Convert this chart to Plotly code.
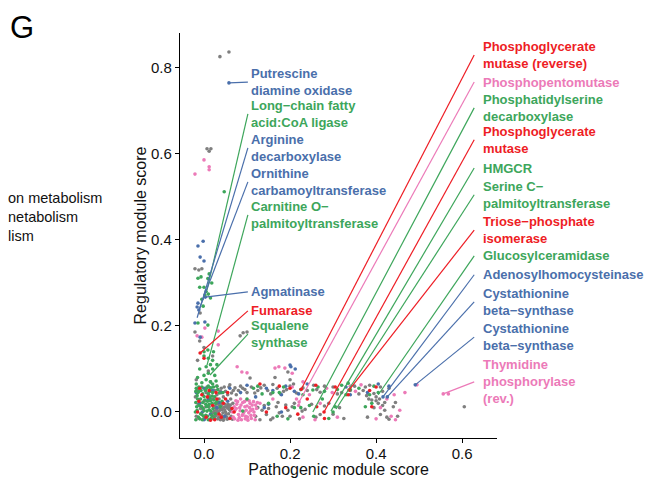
import plotly.graph_objects as go

# ---------------- data ----------------
grey_points = [
    (0.037, 0.826), (0.058, 0.837), (0.007, 0.612), (0.016, 0.612), (0.012, 0.606),
    (-0.021, 0.333), (-0.005, 0.333), (-0.012, 0.330), (-0.009, 0.230), (-0.021, 0.186),
    (0.091, 0.184), (0.100, 0.186), (0.084, 0.177), (0.107, 0.079), (0.060, 0.063),
    (0.195, 0.093), (0.605, 0.012),
    (0.000, 0.150), (-0.015, 0.120), (0.010, 0.095), (-0.018, 0.075), (0.020, 0.130),
    (-0.010, 0.165), (0.015, 0.070),
    (0.022, -0.015), (0.028, -0.008), (0.033, 0.000), (0.038, -0.018), (0.042, 0.006),
    (0.047, -0.012), (0.052, 0.012), (0.057, -0.004), (0.061, 0.016), (0.026, 0.014),
    (0.031, 0.019), (0.036, 0.009), (0.044, -0.002), (0.049, 0.018), (0.054, -0.017),
    (0.059, 0.005), (0.024, 0.002), (0.040, 0.015), (0.045, -0.019), (0.050, 0.000),
    (0.034, -0.013), (0.029, 0.005), (0.063, -0.010), (0.055, 0.009),
    (0.021, -0.002), (0.027, 0.010), (0.032, -0.016), (0.037, 0.004), (0.041, -0.009),
    (0.046, 0.011), (0.051, -0.006), (0.056, 0.017), (0.062, 0.002), (0.066, -0.017),
    (0.023, -0.010), (0.039, 0.020), (0.048, 0.005), (0.053, -0.012), (0.058, 0.012),
    (0.064, 0.008), (0.067, 0.020), (0.030, -0.001), (0.035, 0.016), (0.043, -0.015),
    (0.005, 0.045), (0.015, 0.055), (0.025, 0.050), (0.030, 0.040), (0.040, 0.055),
    (0.050, 0.048), (0.058, 0.058), (0.064, 0.044), (0.072, 0.056), (0.080, 0.050),
    (0.010, 0.030), (0.035, 0.030), (-0.015, 0.052), (0.045, 0.035),
    (0.000, 0.025), (0.007, 0.058), (0.020, 0.030), (0.038, 0.048), (0.047, 0.058),
    (0.055, 0.040), (0.062, 0.030), (0.068, 0.050), (0.075, 0.040), (0.090, 0.055),
    (-0.020, 0.035), (0.012, 0.038),
    (-0.018, -0.010), (-0.008, 0.008), (0.002, -0.016), (0.012, 0.012), (-0.013, 0.018),
    (0.017, -0.005),
    (0.120, -0.010), (0.125, 0.010), (0.130, -0.018), (0.135, 0.004), (0.140, 0.015),
    (0.145, -0.006), (0.150, 0.008), (0.160, -0.014), (0.168, 0.012), (0.175, -0.002),
    (0.190, 0.016), (0.200, -0.010), (0.210, 0.020), (0.222, -0.016), (0.235, 0.006),
    (0.260, -0.012), (0.280, 0.014), (0.300, -0.005), (0.315, 0.010), (0.380, -0.012),
    (0.395, 0.010), (0.405, 0.020), (0.410, -0.006), (0.420, 0.004), (0.430, -0.017),
    (0.440, 0.012), (0.450, -0.010), (0.400, 0.026),
    (0.155, -0.018), (0.172, 0.022), (0.182, -0.010), (0.195, 0.004), (0.205, 0.012),
    (0.228, 0.002), (0.250, 0.018), (0.270, -0.006), (0.290, 0.020), (0.325, -0.015),
    (0.415, 0.015), (0.425, -0.012), (0.445, 0.022),
    (0.085, 0.060), (0.100, 0.045), (0.110, 0.058), (0.125, 0.050), (0.140, 0.062),
    (0.155, 0.042), (0.170, 0.055), (0.185, 0.048), (0.200, 0.060), (0.215, 0.044),
    (0.240, 0.050), (0.255, 0.062), (0.270, 0.046), (0.300, 0.058), (0.320, 0.045),
    (0.350, 0.060), (0.370, 0.050), (0.385, 0.062), (0.395, 0.043), (0.400, 0.035),
    (0.408, 0.030), (0.415, 0.048), (0.420, 0.022), (0.430, 0.055), (0.200, 0.075),
    (0.165, 0.080), (0.383, 0.030), (0.390, 0.028), (0.378, 0.038),
    (0.095, 0.052), (0.118, 0.044), (0.132, 0.056), (0.148, 0.050), (0.160, 0.064),
    (0.178, 0.042), (0.192, 0.052), (0.208, 0.065), (0.230, 0.056), (0.262, 0.052),
    (0.280, 0.060), (0.310, 0.042), (0.340, 0.050), (0.360, 0.042), (0.375, 0.058),
    (0.410, 0.058),
]

green_points = [
    (0.047, 0.512), (0.012, 0.321), (-0.014, 0.311), (-0.007, 0.314), (0.009, 0.310),
    (0.002, 0.272), (0.010, 0.274), (-0.002, 0.246), (-0.014, 0.207), (0.009, 0.202),
    (0.009, 0.144), (0.005, 0.280), (0.015, 0.265), (-0.005, 0.262), (0.000, 0.290),
    (0.018, 0.300), (-0.010, 0.290),
    (0.000, 0.130), (0.010, 0.125), (0.020, 0.120), (0.015, 0.110), (0.005, 0.105),
    (-0.010, 0.100), (0.020, 0.100), (0.010, 0.090), (0.000, 0.085), (0.025, 0.085),
    (-0.015, 0.080), (0.005, 0.075), (0.015, 0.070), (-0.005, 0.068), (0.020, 0.065),
    (0.010, 0.060), (0.000, 0.140), (0.022, 0.140), (-0.018, 0.065), (0.028, 0.072),
    (0.030, 0.110),
    (-0.018, 0.055), (-0.012, 0.048), (-0.005, 0.058), (0.003, 0.050), (0.010, 0.042),
    (0.016, 0.056), (-0.016, 0.038), (-0.008, 0.030), (0.000, 0.036), (0.008, 0.025),
    (0.014, 0.033), (0.020, 0.045), (-0.019, 0.022), (-0.011, 0.015), (-0.003, 0.022),
    (0.005, 0.012), (0.012, 0.005), (0.019, 0.020), (-0.016, 0.004), (-0.008, -0.004),
    (0.000, 0.003), (0.008, -0.010), (0.016, -0.015), (-0.019, -0.018), (-0.013, -0.012),
    (-0.004, -0.018), (0.004, -0.008), (0.021, 0.008), (0.026, -0.004), (0.030, 0.025),
    (0.036, 0.044), (0.042, 0.025), (0.025, 0.035), (-0.002, 0.008), (0.012, 0.018),
    (-0.015, 0.030),
    (-0.020, 0.000), (-0.017, 0.012), (-0.014, 0.045), (-0.010, -0.016), (-0.007, 0.050),
    (-0.006, 0.013), (-0.001, -0.010), (0.002, 0.028), (0.006, 0.055), (0.007, 0.002),
    (0.010, -0.018), (0.013, 0.048), (0.015, 0.026), (0.018, -0.008), (0.019, 0.037),
    (0.022, 0.058), (0.024, -0.014), (0.027, 0.020), (0.032, 0.052), (0.038, 0.012),
    (0.044, 0.045), (-0.019, 0.048), (-0.003, 0.042), (0.004, 0.018), (0.016, 0.002),
    (-0.012, 0.058), (0.009, 0.013), (-0.005, -0.006), (0.023, 0.028), (0.030, 0.060),
    (0.090, 0.002), (0.115, 0.055), (0.150, 0.020), (0.175, 0.045), (0.195, -0.016),
    (0.225, 0.052), (0.245, 0.015), (0.255, -0.010), (0.265, 0.058), (0.275, 0.030),
    (0.290, -0.015), (0.305, 0.012), (0.310, 0.052), (0.330, 0.040), (0.360, 0.055),
    (0.390, 0.020), (0.395, 0.060), (0.375, 0.012), (0.210, 0.010), (0.135, 0.042),
    (0.253, 0.051), (0.335, 0.067),
    (0.100, 0.030), (0.125, 0.060), (0.160, 0.045), (0.185, 0.058), (0.230, 0.040),
    (0.280, 0.048), (0.320, 0.062), (0.340, 0.052), (0.385, 0.040), (0.405, 0.045),
    (0.170, -0.010), (0.225, 0.010), (0.300, 0.000),
]

pink_points = [
    (0.000, 0.586), (0.012, 0.570), (0.012, 0.563), (-0.021, 0.553), (-0.016, 0.177),
    (-0.005, 0.174), (0.033, 0.188), (0.033, 0.156), (0.002, 0.195), (0.077, 0.105),
    (0.088, 0.093), (0.100, 0.091), (0.165, 0.102), (0.188, 0.102), (0.174, 0.105),
    (0.495, 0.063), (0.467, 0.045), (0.556, 0.042), (0.568, 0.042),
    (0.068, -0.012), (0.072, 0.004), (0.076, 0.018), (0.080, -0.006), (0.083, 0.010),
    (0.087, -0.018), (0.090, 0.022), (0.093, 0.000), (0.097, -0.010), (0.100, 0.014),
    (0.104, -0.002), (0.107, 0.020), (0.110, -0.015), (0.113, 0.006), (0.117, -0.008),
    (0.120, 0.016), (0.074, 0.026), (0.085, 0.030), (0.095, 0.012), (0.102, -0.019),
    (0.108, 0.003), (0.079, -0.019), (0.115, 0.024), (0.089, -0.008), (0.070, 0.012),
    (0.099, 0.028),
    (0.066, 0.000), (0.071, -0.016), (0.075, 0.008), (0.078, 0.024), (0.082, -0.013),
    (0.086, 0.016), (0.091, -0.004), (0.094, 0.024), (0.098, 0.004), (0.101, -0.012),
    (0.105, 0.026), (0.109, -0.008), (0.112, 0.016), (0.116, 0.000), (0.119, -0.018),
    (0.122, 0.008), (0.084, 0.003), (0.096, -0.016), (0.106, 0.010), (0.124, 0.022),
    (-0.015, -0.015), (0.000, 0.010), (0.015, 0.048), (0.030, 0.060), (0.130, 0.020),
    (0.160, 0.030), (0.205, 0.058), (0.215, 0.030), (0.220, 0.015), (0.230, -0.012),
    (0.245, 0.040), (0.258, -0.018), (0.270, 0.020), (0.285, 0.055), (0.298, 0.045),
    (0.310, -0.012), (0.340, 0.060), (0.352, 0.048), (0.365, 0.063), (0.400, -0.016),
    (0.410, 0.010), (0.425, 0.030), (0.435, -0.010), (0.442, 0.040), (0.455, 0.004),
    (0.445, -0.018), (0.230, 0.070), (0.205, 0.090), (0.221, 0.023),
]

red_points = [
    (-0.009, 0.137), (0.226, 0.053), (0.279, 0.000), (0.337, 0.051),
    (-0.015, 0.000), (0.005, -0.012), (0.020, 0.015), (0.035, -0.005), (0.045, 0.020),
    (0.060, -0.015), (0.065, 0.008), (-0.005, 0.040), (0.012, 0.050), (0.025, -0.018),
    (0.050, 0.030), (0.028, 0.045),
    (0.008, 0.035), (-0.012, 0.025), (0.015, -0.019), (0.040, -0.012), (0.055, 0.045),
    (0.070, 0.000), (0.030, 0.030),
    (0.130, 0.065), (0.145, 0.000), (0.175, 0.060), (0.190, 0.010), (0.200, 0.055),
    (0.218, -0.005), (0.240, 0.030), (0.262, 0.012), (0.280, -0.015), (0.305, 0.058),
    (0.335, 0.040), (0.385, 0.050), (0.390, 0.012), (0.400, 0.058), (0.260, 0.062),
    (0.000, 0.125), (-0.010, 0.055),
]

blue_points = [
    (0.058, 0.765), (-0.002, 0.397), (-0.014, 0.386), (-0.009, 0.360), (0.000, 0.351),
    (-0.014, 0.253), (-0.016, 0.244), (-0.021, 0.207), (0.002, 0.209), (-0.009, 0.174),
    (0.202, 0.105), (0.200, 0.109), (0.212, 0.100), (0.003, 0.267), (-0.012, 0.237),
    (0.491, 0.063),
    (-0.010, 0.020), (0.000, 0.055), (0.015, -0.005), (0.030, 0.010), (0.040, 0.045),
    (0.055, 0.025), (-0.018, 0.045), (0.010, 0.030), (0.048, -0.010),
    (-0.004, 0.000), (0.020, 0.050), (0.035, 0.022), (0.060, 0.055), (0.000, -0.018),
    (0.085, 0.045), (0.100, 0.062), (0.120, 0.035), (0.145, 0.055), (0.160, 0.050),
    (0.180, 0.040), (0.190, 0.060), (0.210, 0.048), (0.240, 0.065), (0.330, 0.058),
    (0.340, 0.040), (0.380, 0.045), (0.416, 0.035), (0.426, 0.035), (0.430, 0.060),
    (0.405, 0.065), (0.180, 0.000), (0.140, 0.010), (0.150, 0.018), (0.220, 0.042),
]

# labelled reactions (left group)
left_labels = ["Putrescine<br>diamine oxidase", "Long\u2212chain fatty<br>acid:CoA ligase",
               "Arginine<br>decarboxylase", "Ornithine<br>carbamoyltransferase",
               "Carnitine O\u2212<br>palmitoyltransferase", "Agmatinase", "Fumarase",
               "Squalene<br>synthase"]
left_groups = ["blue", "green", "blue", "blue", "green", "blue", "red", "green"]
left_target_x = [0.058, 0.007, -0.016, -0.012, 0.007, 0.003, -0.009, 0.014]
left_target_y = [0.765, 0.284, 0.219, 0.237, 0.109, 0.267, 0.137, 0.086]

# labelled reactions (right group)
right_labels = ["Phosphoglycerate<br>mutase (reverse)", "Phosphopentomutase",
                "Phosphatidylserine<br>decarboxylase", "Phosphoglycerate<br>mutase", "HMGCR",
                "Serine C\u2212<br>palmitoyltransferase", "Triose\u2212phosphate<br>isomerase",
                "Glucosylceramidase", "Adenosylhomocysteinase",
                "Cystathionine<br>beta\u2212synthase", "Cystathionine<br>beta\u2212synthase",
                "Thymidine<br>phosphorylase<br>(rev.)"]
right_groups = ["red", "pink", "green", "red", "green", "green", "red", "green",
                "blue", "blue", "blue", "pink"]
right_target_x = [0.226, 0.221, 0.253, 0.279, 0.295, 0.307, 0.337, 0.405, 0.416, 0.426, 0.491, 0.556]
right_target_y = [0.053, 0.023, 0.000, 0.000, 0.002, 0.007, 0.051, 0.040, 0.035, 0.035, 0.063, 0.042]

legend_fragments = ["on metabolism", "netabolism", "lism"]

# ---------------- layout / style ----------------
colors = {"grey": "#7f7f7f", "green": "#3da65b", "pink": "#ec7ab8",
          "blue": "#4a6fab", "red": "#ee1d25"}

left_label_y = [0.767, 0.693, 0.614, 0.535, 0.458, 0.279, 0.235, 0.181]
right_label_y = [0.830, 0.767, 0.707, 0.633, 0.567, 0.505, 0.423, 0.363, 0.319, 0.256, 0.174, 0.070]
left_line_x, left_text_x = 0.102, 0.108
right_line_x, right_text_x = 0.628, 0.645

FONT = "Liberation Sans, Arial, sans-serif"

# page offset of the plot div (default body margin) is compensated here
OFF = 8
W, H = 656 - OFF, 478 - OFF
L, R, T, B = 180 - OFF, 159, 33 - OFF, 40
pw, ph = W - L - R, H - T - B


def paper_x(page_x):
    return (page_x - OFF - L) / pw


def paper_y(page_y):
    return (H - (page_y - OFF) - B) / ph


fig = go.Figure()

point_sets = {"grey": grey_points, "pink": pink_points, "blue": blue_points,
              "green": green_points, "red": red_points}
for name in ["grey", "pink", "blue", "green", "red"]:
    pts = point_sets[name]
    fig.add_trace(go.Scatter(
        x=[p[0] for p in pts], y=[p[1] for p in pts], mode="markers",
        marker=dict(size=3.6, color=colors[name], line=dict(width=0)),
        showlegend=False, hoverinfo="skip", cliponaxis=False))

annotations = []
for labels, groups, tx, ty, ly, lx, txt_x in [
        (left_labels, left_groups, left_target_x, left_target_y, left_label_y, left_line_x, left_text_x),
        (right_labels, right_groups, right_target_x, right_target_y, right_label_y, right_line_x, right_text_x)]:
    for lab, g, x0, y0, yl in zip(labels, groups, tx, ty, ly):
        fig.add_trace(go.Scatter(
            x=[lx, x0], y=[yl, y0], mode="lines",
            line=dict(color=colors[g], width=1.2),
            showlegend=False, hoverinfo="skip"))
        annotations.append(dict(
            x=txt_x, y=yl, xref="x", yref="y", text="<b>" + lab + "</b>",
            showarrow=False, xanchor="left", yanchor="middle", align="left",
            font=dict(family=FONT, size=13, color=colors[g]), borderpad=0))

# partially visible legend text on the far left (one block)
annotations.append(dict(
    x=paper_x(OFF - 2), y=paper_y(217), xref="paper", yref="paper",
    text="<br>".join(legend_fragments), align="left",
    showarrow=False, xanchor="left", yanchor="middle",
    font=dict(family=FONT, size=14.5, color="#111111")))

annotations.append(dict(
    x=paper_x(8), y=paper_y(28), xref="paper", yref="paper", text="G", showarrow=False,
    xanchor="left", yanchor="middle", font=dict(family=FONT, size=31, color="#000000")))

fig.update_layout(
    width=W, height=H,
    margin=dict(l=L, r=R, t=T, b=B, autoexpand=False),
    paper_bgcolor="white", plot_bgcolor="white",
    font=dict(family=FONT, color="#111111"),
    annotations=annotations,
    xaxis=dict(range=[-0.0558, 0.681], showgrid=False, zeroline=False, automargin=False,
               showline=True, linecolor="#000000", linewidth=1.3,
               ticks="outside", ticklen=4, tickwidth=1.1, tickcolor="#000000",
               tickvals=[0, 0.2, 0.4, 0.6], ticktext=["0.0", "0.2", "0.4", "0.6"],
               tickfont=dict(size=15, color="#111111"), ticklabelstandoff=-2,
               title=dict(text="Pathogenic module score", font=dict(size=16, color="#111111"), standoff=0)),
    yaxis=dict(range=[-0.0605, 0.881], showgrid=False, zeroline=False, automargin=False,
               showline=True, linecolor="#000000", linewidth=1.3,
               ticks="outside", ticklen=4, tickwidth=1.1, tickcolor="#000000",
               tickvals=[0, 0.2, 0.4, 0.6, 0.8], ticktext=["0.0", "0.2", "0.4", "0.6", "0.8"],
               tickfont=dict(size=15, color="#111111"),
               title=dict(text="Regulatory module score", font=dict(size=16, color="#111111"), standoff=0)),
)

fig.write_html("out.html")
